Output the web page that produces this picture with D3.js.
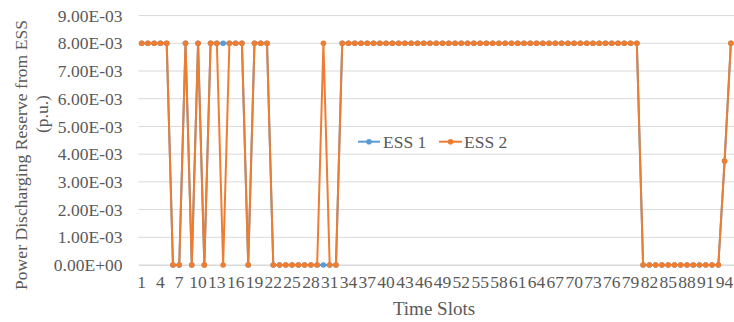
<!DOCTYPE html>
<html>
<head>
<meta charset="utf-8">
<script src="https://cdn.jsdelivr.net/npm/d3@7/dist/d3.min.js"></script>
<style>
  html, body { margin: 0; padding: 0; background: #fff; }
  svg { display: block; }
  svg text { font-family: "Liberation Serif", "Times New Roman", serif !important; fill: #595959; }
</style>
</head>
<body>
<svg id="chart" width="734" height="322"></svg>
<script>
// Time slots 1..95
const timeSlots = [
  1,2,3,4,5,6,7,8,9,10,11,12,13,14,15,16,17,18,19,20,
  21,22,23,24,25,26,27,28,29,30,31,32,33,34,35,36,37,38,39,40,
  41,42,43,44,45,46,47,48,49,50,51,52,53,54,55,56,57,58,59,60,
  61,62,63,64,65,66,67,68,69,70,71,72,73,74,75,76,77,78,79,80,
  81,82,83,84,85,86,87,88,89,90,91,92,93,94,95
];

// Discharging reserve of ESS 1 (p.u.)
const ess1 = [
  0.008,0.008,0.008,0.008,0.008, 0,0, 0.008, 0, 0.008, 0, 0.008,0.008, 0.008,
  0.008,0.008,0.008, 0, 0.008,0.008,0.008,
  0,0,0,0,0,0,0,0, 0, 0,0,
  0.008,0.008,0.008,0.008,0.008,0.008,0.008,0.008,0.008,0.008,0.008,0.008,
  0.008,0.008,0.008,0.008,0.008,0.008,0.008,0.008,0.008,0.008,0.008,0.008,
  0.008,0.008,0.008,0.008,0.008,0.008,0.008,0.008,0.008,0.008,0.008,0.008,
  0.008,0.008,0.008,0.008,0.008,0.008,0.008,0.008,0.008,0.008,0.008,0.008,
  0,0,0,0,0,0,0,0,0,0,0,0,0,
  0.00375, 0.008
];

// Discharging reserve of ESS 2 (p.u.)
const ess2 = [
  0.008,0.008,0.008,0.008,0.008, 0,0, 0.008, 0, 0.008, 0, 0.008,0.008, 0,
  0.008,0.008,0.008, 0, 0.008,0.008,0.008,
  0,0,0,0,0,0,0,0, 0.008, 0,0,
  0.008,0.008,0.008,0.008,0.008,0.008,0.008,0.008,0.008,0.008,0.008,0.008,
  0.008,0.008,0.008,0.008,0.008,0.008,0.008,0.008,0.008,0.008,0.008,0.008,
  0.008,0.008,0.008,0.008,0.008,0.008,0.008,0.008,0.008,0.008,0.008,0.008,
  0.008,0.008,0.008,0.008,0.008,0.008,0.008,0.008,0.008,0.008,0.008,0.008,
  0,0,0,0,0,0,0,0,0,0,0,0,0,
  0.00375, 0.008
];

const yTicks = [0, 0.001, 0.002, 0.003, 0.004, 0.005, 0.006, 0.007, 0.008, 0.009];
const yTickLabels = ["0.00E+00","1.00E-03","2.00E-03","3.00E-03","4.00E-03",
                     "5.00E-03","6.00E-03","7.00E-03","8.00E-03","9.00E-03"];
const xTickLabels = [1,4,7,10,13,16,19,22,25,28,31,34,37,40,43,46,49,52,55,58,
                     61,64,67,70,73,76,79,82,85,88,91,94];

const seriesNames = ["ESS 1", "ESS 2"];
const seriesColors = ["#5B9BD5", "#ED7D31"];

const serif = "Liberation Serif";
const fontSize = 17.5;
const svg = d3.select("#chart");
const plot = { left: 138.5, right: 734, top: 15.6, bottom: 265 };

const x = d3.scaleBand()
  .domain(timeSlots)
  .range([plot.left, plot.right]);
const cx = d => x(d) + x.bandwidth() / 2;

const y = d3.scaleLinear()
  .domain([0, 0.009])
  .range([plot.bottom, plot.top]);

// Horizontal gridlines
svg.append("g")
  .selectAll("line")
  .data(yTicks)
  .join("line")
  .attr("x1", plot.left)
  .attr("x2", plot.right)
  .attr("y1", d => y(d))
  .attr("y2", d => y(d))
  .attr("stroke", "#d9d9d9")
  .attr("stroke-width", 1);

// Y axis labels
const yAxis = d3.axisLeft(y)
  .tickValues(yTicks)
  .tickSize(0)
  .tickPadding(16)
  .tickFormat((d, i) => yTickLabels[i]);
const gy = svg.append("g")
  .attr("transform", `translate(${plot.left},0)`)
  .call(yAxis)
  .attr("font-family", serif)
  .attr("font-size", fontSize);
gy.select(".domain").remove();
gy.selectAll("text").attr("fill", "#595959");

// X axis (category labels every third slot)
const xAxis = d3.axisBottom(x)
  .tickValues(xTickLabels)
  .tickSize(0)
  .tickPadding(11);
const gx = svg.append("g")
  .attr("transform", `translate(0,${plot.bottom})`)
  .call(xAxis)
  .attr("font-family", serif)
  .attr("font-size", fontSize);
gx.select(".domain").attr("stroke", "#d9d9d9");
gx.selectAll("text").attr("fill", "#595959");

// Axis titles
svg.append("text")
  .attr("x", 434)
  .attr("y", 315)
  .attr("text-anchor", "middle")
  .attr("font-size", 19)
  .text("Time Slots");

svg.append("text")
  .attr("transform", "translate(27,155) rotate(-90)")
  .attr("text-anchor", "middle")
  .attr("textLength", 270)
  .attr("lengthAdjust", "spacing")
  .attr("font-size", fontSize)
  .text("Power Discharging Reserve from ESS");

svg.append("text")
  .attr("transform", "translate(48,114) rotate(-90)")
  .attr("text-anchor", "middle")
  .attr("font-size", fontSize)
  .text("(p.u.)");

// Series lines and markers
const line = d3.line()
  .x((d, i) => cx(timeSlots[i]))
  .y(d => y(d));

[ess1, ess2].forEach((vals, k) => {
  const g = svg.append("g");
  g.append("path")
    .datum(vals)
    .attr("d", line)
    .attr("fill", "none")
    .attr("stroke", seriesColors[k])
    .attr("stroke-width", 2)
    .attr("stroke-linejoin", "round");
  g.selectAll("circle")
    .data(vals)
    .join("circle")
    .attr("cx", (d, i) => cx(timeSlots[i]))
    .attr("cy", d => y(d))
    .attr("r", 2.8)
    .attr("fill", seriesColors[k]);
});

// Legend
const legendY = 141.7;
const legendItems = [
  { x0: 358, x1: 380, tx: 383 },
  { x0: 439, x1: 462, tx: 464 }
];
legendItems.forEach((it, k) => {
  const g = svg.append("g");
  g.append("line")
    .attr("x1", it.x0).attr("x2", it.x1)
    .attr("y1", legendY).attr("y2", legendY)
    .attr("stroke", seriesColors[k])
    .attr("stroke-width", 2);
  g.append("circle")
    .attr("cx", (it.x0 + it.x1) / 2)
    .attr("cy", legendY)
    .attr("r", 2.8)
    .attr("fill", seriesColors[k]);
  g.append("text")
    .attr("x", it.tx)
    .attr("y", legendY + 6)
    .attr("font-size", fontSize)
    .text(seriesNames[k]);
});
</script>
</body>
</html>
